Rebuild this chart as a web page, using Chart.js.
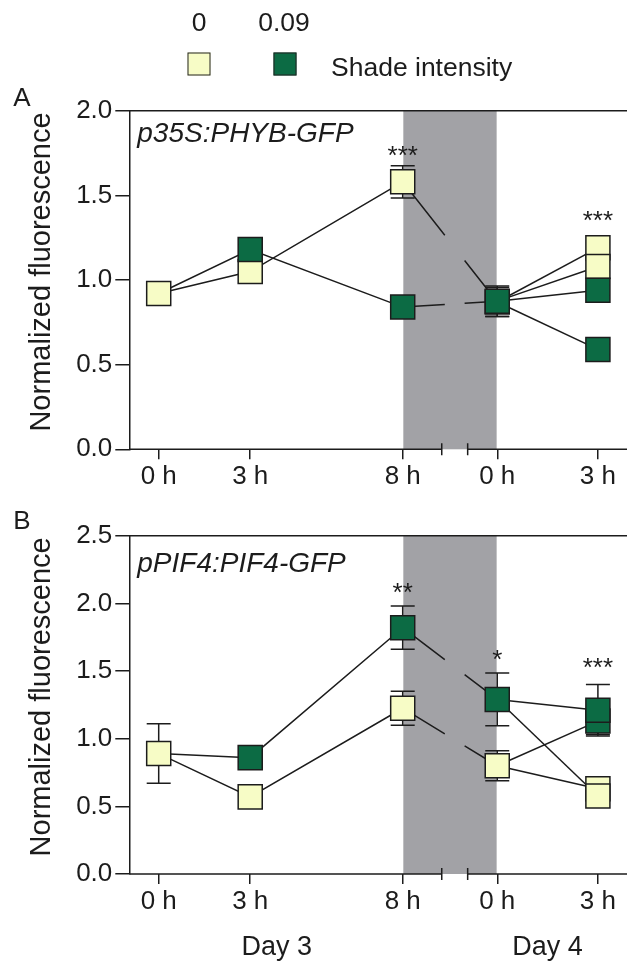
<!DOCTYPE html>
<html lang="en">
<head>
<meta charset="UTF-8">
<title>Normalized fluorescence</title>
<script src="https://cdn.jsdelivr.net/npm/chart.js"></script>
<style>
  body { margin: 0; background: #fff; font-family: 'Liberation Sans', Arial, sans-serif; color: #1c1c1c; }
  #wrap { position: relative; width: 627px; height: 965px; overflow: hidden; }
  canvas { position: absolute; left: 0; }
  #chartA { top: 0; }
  #chartB { top: 500px; }
  .txt { position: absolute; font-size: 26.5px; line-height: 1; white-space: nowrap; transform: translate(-50%, -50%); }
  .key { position: absolute; width: 21px; height: 21px; border: 1.5px solid #222; transform: translate(-50%, -50%); }
</style>
</head>
<body>
<div id="wrap">
  <canvas id="chartA" width="627" height="500"></canvas>
  <canvas id="chartB" width="627" height="465"></canvas>

  <div class="txt" style="left:199px; top:22px;">0</div>
  <div class="txt" style="left:284px; top:22px;">0.09</div>
  <div class="key" style="left:199px; top:64px; background:#f7fcc6;"></div>
  <div class="key" style="left:285px; top:64px; background:#0c6b44;"></div>
  <div class="txt" style="left:331px; top:67px; transform:translate(0,-50%);">Shade intensity</div>
  <div class="txt" style="left:22px; top:97px; font-size:26px;">A</div>
  <div class="txt" style="left:22px; top:520px; font-size:26px;">B</div>
</div>

<script>
    // time axis: day 3 (0, 3, 8 h) then day 4 (0, 3 h) after the night
    const timeLabels = ['0 h', '3 h', '8 h', '0 h', '3 h'];
    const timePos = [0, 3, 8, 11.1, 14.4];
    const dayLabels = ['Day 3', 'Day 4'];
    const nightFrom = 8.02, nightTo = 11.08;
    const axisBreak = [9.28, 10.13];
    const lineBreak = [9.38, 10.03];

    // A: p35S:PHYB-GFP
    const aStart = 0.92, aStartErr = 0.02;
    const aNone = [1.05, 1.58, 0.87];        // 3 h, 8 h, day 4 0 h (0 shade on day 3)
    const aNoneErr = [0.03, 0.095, 0.085];
    const aShade = [1.18, 0.84, 0.875];      // 0.09 shade on day 3
    const aShadeErr = [0.03, 0.03, 0.09];
    const aNoneDay4 = [1.19, 0.59];          // day 4 3 h, under 0 / 0.09
    const aNoneDay4Err = [0.03, 0.03];
    const aShadeDay4 = [1.08, 0.94];
    const aShadeDay4Err = [0.03, 0.03];
    const aStars = ['***', '***'];
    const aStarAt = [2, 4];
    const aStarY = [1.75, 1.366];

    // B: pPIF4:PIF4-GFP
    const bStart = 0.89, bStartErr = 0.22;
    const bNone = [0.57, 1.225, 0.80];
    const bNoneErr = [0.03, 0.125, 0.11];
    const bShade = [0.86, 1.82, 1.29];
    const bShadeErr = [0.03, 0.16, 0.195];
    const bNoneDay4 = [0.63, 1.13];
    const bNoneDay4Err = [0.04, 0.10];
    const bShadeDay4 = [0.576, 1.21];
    const bShadeDay4Err = [0.04, 0.19];
    const bStars = ['**', '*', '***'];
    const bStarAt = [2, 3, 4];
    const bStarY = [2.10, 1.606, 1.545];

    const ink = '#1c1c1c';
    const light = '#f7fcc6';
    const dark = '#0c6b44';
    const night = '#a2a2a6';
    const family = "'Liberation Sans', Arial, sans-serif";
    const xMin = -0.964, xMax = 15.354;

    // leave a gap in the line where the axis is broken (8 h -> day 4 0 h)
    function nightGap(ctx) {
        if (ctx.p0DataIndex !== 2) return undefined;
        const xs = ctx.chart.scales.x;
        const a = xs.getPixelForValue(lineBreak[0]), b = xs.getPixelForValue(lineBreak[1]);
        const p0 = ctx.p0, p1 = ctx.p1;
        const len = Math.hypot(p1.x - p0.x, p1.y - p0.y);
        const k = len / (p1.x - p0.x);
        return [(a - p0.x) * k, (b - a) * k, len];
    }

    function buildDatasets(start, startErr, none, noneErr, shade, shadeErr, noneD4, noneD4Err, shadeD4, shadeD4Err) {
        const t = timePos;
        const track = (v, end) => [
            {x: t[0], y: start}, {x: t[1], y: v[0]}, {x: t[2], y: v[1]}, {x: t[3], y: v[2]}, {x: t[4], y: end}
        ];
        const branch = (v0, end) => [{x: t[3], y: v0}, {x: t[4], y: end}];
        const lines = [
            track(none, noneD4[0]), branch(none[2], noneD4[1]),
            track(shade, shadeD4[1]), branch(shade[2], shadeD4[0])
        ].map(data => ({
            type: 'line', data, borderColor: ink, borderWidth: 1.5, pointRadius: 0,
            tension: 0, order: 2, segment: { borderDash: nightGap }
        }));

        // markers in drawing order (later ones on top)
        const marks = [
            {x: t[0], y: start, e: startErr, c: light},
            {x: t[1], y: none[0], e: noneErr[0], c: light},
            {x: t[2], y: none[1], e: noneErr[1], c: light},
            {x: t[3], y: none[2], e: noneErr[2], c: light},
            {x: t[4], y: noneD4[0], e: noneD4Err[0], c: light},
            {x: t[4], y: noneD4[1], e: noneD4Err[1], c: dark},
            {x: t[1], y: shade[0], e: shadeErr[0], c: dark},
            {x: t[2], y: shade[1], e: shadeErr[1], c: dark},
            {x: t[3], y: shade[2], e: shadeErr[2], c: dark},
            {x: t[4], y: shadeD4[0], e: shadeD4Err[0], c: light},
            {x: t[4], y: shadeD4[1], e: shadeD4Err[1], c: dark}
        ];
        const points = {
            type: 'line', data: marks, showLine: false, withErrors: true, order: 1,
            pointStyle: 'rect', pointRadius: 17, pointHoverRadius: 17,
            pointBackgroundColor: marks.map(m => m.c),
            pointBorderColor: ink, pointBorderWidth: 1.5
        };
        return lines.concat([points]);
    }

    // grey night band
    const nightBand = {
        id: 'nightBand',
        beforeDatasetsDraw(chart) {
            const {ctx, chartArea: ca, scales: {x}} = chart;
            const x0 = x.getPixelForValue(nightFrom), x1 = x.getPixelForValue(nightTo);
            ctx.save();
            ctx.fillStyle = night;
            ctx.fillRect(x0, ca.top, x1 - x0, ca.bottom - ca.top);
            ctx.restore();
        }
    };

    const errorBars = {
        id: 'errorBars',
        beforeDatasetsDraw(chart) {
            const {ctx, scales: {y}} = chart;
            ctx.save();
            ctx.strokeStyle = ink;
            ctx.lineWidth = 1.5;
            chart.data.datasets.forEach((ds, i) => {
                if (!ds.withErrors) return;
                chart.getDatasetMeta(i).data.forEach((p, j) => {
                    const d = ds.data[j];
                    if (!d.e) return;
                    const top = y.getPixelForValue(d.y + d.e), bot = y.getPixelForValue(d.y - d.e);
                    ctx.beginPath();
                    ctx.moveTo(p.x, top); ctx.lineTo(p.x, bot);
                    ctx.moveTo(p.x - 12, top); ctx.lineTo(p.x + 12, top);
                    ctx.moveTo(p.x - 12, bot); ctx.lineTo(p.x + 12, bot);
                    ctx.stroke();
                });
            });
            ctx.restore();
        }
    };

    const decor = {
        id: 'decor',
        afterDraw(chart, args, opts) {
            const {ctx, chartArea: ca, scales: {x, y}} = chart;
            ctx.save();
            ctx.strokeStyle = ink;
            ctx.lineWidth = 1.5;
            const b0 = x.getPixelForValue(axisBreak[0]), b1 = x.getPixelForValue(axisBreak[1]);
            ctx.beginPath();
            ctx.moveTo(ca.left, ca.top); ctx.lineTo(ca.right, ca.top);
            ctx.moveTo(ca.left, ca.bottom); ctx.lineTo(b0, ca.bottom);
            ctx.moveTo(b1, ca.bottom); ctx.lineTo(ca.right, ca.bottom);
            ctx.moveTo(b0, ca.bottom - 6); ctx.lineTo(b0, ca.bottom + 6);
            ctx.moveTo(b1, ca.bottom - 6); ctx.lineTo(b1, ca.bottom + 6);
            ctx.stroke();

            ctx.fillStyle = ink;

            // y axis title
            ctx.save();
            ctx.translate(42, (ca.top + ca.bottom) / 2 - 8);
            ctx.rotate(-Math.PI / 2);
            ctx.font = '29px ' + family;
            ctx.textAlign = 'center';
            ctx.textBaseline = 'middle';
            ctx.fillText('Normalized fluorescence', 0, 0);
            ctx.restore();

            ctx.font = 'italic 28px ' + family;
            ctx.textAlign = 'left';
            ctx.textBaseline = 'alphabetic';
            ctx.fillText(opts.label, ca.left + 8, ca.top + opts.labelDy);

            ctx.font = '26px ' + family;
            ctx.textAlign = 'center';
            ctx.textBaseline = 'middle';
            opts.stars.forEach((s, i) => {
                ctx.fillText(s, x.getPixelForValue(timePos[opts.starAt[i]]), y.getPixelForValue(opts.starY[i]) + 4);
            });

            if (opts.days) {
                ctx.font = '27px ' + family;
                ctx.fillText(dayLabels[0], x.getPixelForValue((timePos[0] + timePos[2]) / 2) - 4, ca.bottom + 74);
                ctx.fillText(dayLabels[1], x.getPixelForValue((timePos[3] + timePos[4]) / 2), ca.bottom + 74);
            }
            ctx.restore();
        }
    };

    function makeChart(id, cfg) {
        return new Chart(document.getElementById(id), {
            data: { datasets: cfg.datasets },
            options: {
                responsive: false,
                animation: false,
                events: [],
                layout: { autoPadding: false, padding: { top: cfg.padTop, bottom: 0, left: 0, right: 0 } },
                plugins: {
                    legend: { display: false },
                    tooltip: { enabled: false },
                    decor: cfg.decor
                },
                scales: {
                    x: {
                        type: 'linear',
                        min: xMin,
                        max: xMax,
                        afterFit: s => { s.height = cfg.xHeight; },
                        afterBuildTicks: s => { s.ticks = timePos.map(v => ({ value: v })); },
                        border: { display: false },
                        grid: { drawOnChartArea: false, drawTicks: true, tickLength: 10, color: ink, lineWidth: 1.5 },
                        ticks: {
                            callback: (v, i) => timeLabels[i],
                            font: { size: 26, family }, color: ink, padding: 2,
                            maxRotation: 0, autoSkip: false
                        }
                    },
                    y: {
                        min: 0,
                        max: cfg.yMax,
                        afterFit: s => { s.width = 129.3; },
                        border: { color: ink, width: 1.5 },
                        grid: { drawOnChartArea: false, tickLength: 14, color: ink, lineWidth: 1.5 },
                        ticks: {
                            stepSize: 0.5,
                            callback: v => v.toFixed(1),
                            font: { size: 26, family }, color: ink, padding: 3
                        }
                    }
                }
            },
            plugins: [nightBand, errorBars, decor]
        });
    }

    makeChart('chartA', {
        datasets: buildDatasets(aStart, aStartErr, aNone, aNoneErr, aShade, aShadeErr,
                                aNoneDay4, aNoneDay4Err, aShadeDay4, aShadeDay4Err),
        yMax: 2.0,
        padTop: 110.7,
        xHeight: 50.7,
        decor: { label: 'p35S:PHYB-GFP', labelDy: 31, stars: aStars, starAt: aStarAt, starY: aStarY, days: false }
    });

    makeChart('chartB', {
        datasets: buildDatasets(bStart, bStartErr, bNone, bNoneErr, bShade, bShadeErr,
                                bNoneDay4, bNoneDay4Err, bShadeDay4, bShadeDay4Err),
        yMax: 2.5,
        padTop: 35.7,
        xHeight: 91,
        decor: { label: 'pPIF4:PIF4-GFP', labelDy: 36, stars: bStars, starAt: bStarAt, starY: bStarY, days: true }
    });
</script>
</body>
</html>
